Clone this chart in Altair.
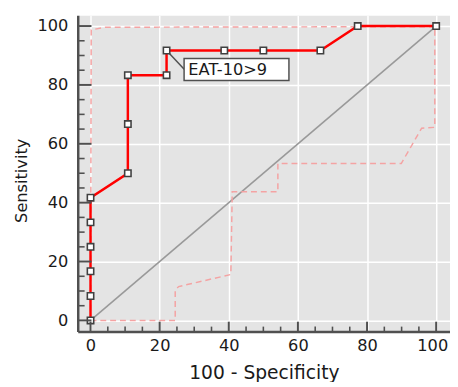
import altair as alt
import pandas as pd

# ROC curve (100 - Specificity, Sensitivity)
roc_x = [0, 0, 0, 0, 0, 0, 10.8, 10.8, 10.8, 22, 22, 38.7, 50, 66.5, 77.3, 100]
roc_y = [0, 8.3, 16.7, 25, 33.3, 41.7, 50, 66.7, 83.3, 83.3, 91.7, 91.7, 91.7, 91.7, 100, 100]

# confidence bounds
upper_x = [0, 0.2, 4.2, 99.6, 100]
upper_y = [0, 98.7, 99.6, 99.8, 100]
lower_x = [0, 24.5, 24.5, 25.5, 40.6, 41, 54.2, 54.2, 89.9, 95.8, 99.6, 99.6, 100]
lower_y = [0, 0, 10.3, 11.5, 15.6, 43.7, 43.7, 53.3, 53.3, 65.3, 65.6, 99.8, 100]

diag = [0, 100]
major_ticks = [0, 20, 40, 60, 80, 100]
minor_ticks = [v for v in range(0, 101, 5) if v % 20 != 0]

label_text = "EAT-10>9"
label_point = (22, 91.7)

FONT = "DejaVu Sans"
W, H = 379, 322
XDOM = [-3.7, 104]
YDOM = [-3.77, 103.67]

roc_df = pd.DataFrame({"x": roc_x, "y": roc_y, "o": range(len(roc_x))})
up_df = pd.DataFrame({"x": upper_x, "y": upper_y, "o": range(len(upper_x))})
lo_df = pd.DataFrame({"x": lower_x, "y": lower_y, "o": range(len(lower_x))})
diag_df = pd.DataFrame({"x": diag, "y": diag})
maj_df = pd.DataFrame({"v": major_ticks})
min_df = pd.DataFrame({"v": minor_ticks})

xs = alt.Scale(domain=XDOM, nice=False, zero=False)
ys = alt.Scale(domain=YDOM, nice=False, zero=False)

xax = alt.Axis(values=major_ticks, grid=True, gridColor="white", gridWidth=1.5,
               domainColor="#505050", domainWidth=2.5, ticks=False,
               labelFont=FONT, labelFontSize=16.5, labelColor="#1a1a1a", labelPadding=6,
               labelOffset={"condition": {"test": "datum.value == 100", "value": -4}, "value": 0},
               title="100 - Specificity", titleFont=FONT, titleFontSize=19,
               titleFontWeight="normal", titleColor="#1a1a1a", titlePadding=10)
yax = alt.Axis(values=major_ticks, grid=True, gridColor="white", gridWidth=1.5,
               domainColor="#505050", domainWidth=2.5, ticks=False,
               labelFont=FONT, labelFontSize=16.5, labelColor="#1a1a1a", labelPadding=10,
               title="Sensitivity", titleFont=FONT, titleFontSize=16.5,
               titleFontWeight="normal", titleColor="#1a1a1a", titlePadding=8, titleY=168)

X = lambda f="x", **k: alt.X(f, type="quantitative", scale=xs, **k)
Y = lambda f="y", **k: alt.Y(f, type="quantitative", scale=ys, **k)

base_diag = alt.Chart(diag_df).mark_line(color="#999999", strokeWidth=1.6, clip=True).encode(
    x=X(axis=xax), y=Y(axis=yax))

band_up = alt.Chart(up_df).mark_line(color="#f4a3a3", strokeWidth=1.5, strokeDash=[6, 4]).encode(
    x=X(), y=Y(), order="o:Q")
band_lo = alt.Chart(lo_df).mark_line(color="#f4a3a3", strokeWidth=1.5, strokeDash=[6, 4]).encode(
    x=X(), y=Y(), order="o:Q")

roc_line = alt.Chart(roc_df).mark_line(color="#ff0000", strokeWidth=2.5).encode(
    x=X(), y=Y(), order="o:Q")

lab_df = pd.DataFrame({"x": [label_point[0]], "y": [label_point[1]],
                       "x2": [27.1], "y2": [85.3],
                       "bx": [27.07], "bx2": [57.4], "by": [89.0], "by2": [81.47],
                       "tx": [28.3], "ty": [85.2], "t": [label_text]})
connector = alt.Chart(lab_df).mark_rule(color="#505050", strokeWidth=1.5).encode(
    x=X("x"), y=Y("y"), x2="x2", y2="y2")
box = alt.Chart(lab_df).mark_rect(fill="white", stroke="#505050", strokeWidth=1.5).encode(
    x=X("bx"), x2="bx2", y=Y("by"), y2="by2")
text = alt.Chart(lab_df).mark_text(font=FONT, fontSize=16.5, align="left", baseline="middle",
                                   color="#1a1a1a").encode(
    x=X("tx"), y=Y("ty"), text="t:N")

squares = alt.Chart(roc_df).mark_square(size=42, fill="white", stroke="#404040",
                                        strokeWidth=1.6, opacity=1).encode(x=X(), y=Y())

ytick_maj = alt.Chart(maj_df).mark_rule(color="#505050", strokeWidth=2).encode(
    y=Y("v"), x=alt.value(0), x2=alt.value(14))
ytick_min = alt.Chart(min_df).mark_rule(color="#505050", strokeWidth=1.6).encode(
    y=Y("v"), x=alt.value(0), x2=alt.value(7))
xtick_maj = alt.Chart(maj_df).mark_rule(color="#505050", strokeWidth=2).encode(
    x=X("v"), y=alt.value(H), y2=alt.value(H - 10))
xtick_min = alt.Chart(min_df).mark_rule(color="#505050", strokeWidth=1.6).encode(
    x=X("v"), y=alt.value(H), y2=alt.value(H - 5))

chart = alt.layer(base_diag, band_up, band_lo, roc_line, connector, box, text, squares,
                  ytick_maj, ytick_min, xtick_maj, xtick_min).properties(
    width=W, height=H,
    autosize=alt.AutoSizeParams(type="none"),
    padding={"left": 71, "top": 4, "right": 0, "bottom": 48},
    background="white",
).configure_view(fill="#e4e4e4", stroke="transparent")

chart.save("out.html", embed_options={"renderer": "svg", "actions": False})
